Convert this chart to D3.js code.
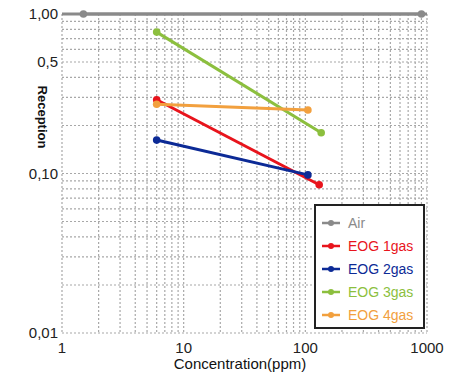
<!DOCTYPE html>
<html>
<head>
<meta charset="utf-8">
<script src="https://cdn.jsdelivr.net/npm/d3@7"></script>
<style>
  body { margin: 0; background: #fff; }
  text { font-family: "Liberation Sans", "DejaVu Sans", sans-serif; }
</style>
</head>
<body>
<svg id="chart"></svg>
<script>
// Chart size
const width = 474;
const height = 379;

// Data
const seriesNames = ["Air", "EOG 1gas", "EOG 2gas", "EOG 3gas", "EOG 4gas"];
const seriesColors = ["#8a8a8a", "#e8141c", "#0c2a96", "#8cbf3e", "#f2a03e"];
const airX = [1.5, 900];
const airY = [1.0, 1.0];
const gas1X = [6, 130];
const gas1Y = [0.29, 0.085];
const gas2X = [6, 105];
const gas2Y = [0.162, 0.098];
const gas3X = [6, 135];
const gas3Y = [0.77, 0.18];
const gas4X = [6, 105];
const gas4Y = [0.272, 0.25];

const xTicks = [1, 10, 100, 1000];
const xTickLabels = ["1", "10", "100", "1000"];
const yTicks = [1, 0.5, 0.1, 0.01];
const yTickLabels = ["1,00", "0,5", "0,10", "0,01"];

const series = [
	{xs: airX, ys: airY},
	{xs: gas1X, ys: gas1Y},
	{xs: gas2X, ys: gas2Y},
	{xs: gas3X, ys: gas3Y},
	{xs: gas4X, ys: gas4Y}
].map((s, i) => ({
	name: seriesNames[i],
	color: seriesColors[i],
	points: s.xs.map((x, j) => ({x: x, y: s.ys[j]}))
}));

// Scales
const x = d3.scaleLog().domain([1, 1000]).range([62, 427]);
const y = d3.scaleLog().domain([0.01, 1]).range([333, 14]);

const svg = d3.select("#chart")
	.attr("width", width)
	.attr("height", height);

// Dotted log grid
const xGrid = [];
for (let p = 1; p <= 100; p *= 10) for (let k = 1; k <= 9; k++) xGrid.push(k * p);
xGrid.push(1000);
const yGrid = [];
for (let p = 0.01; p < 1; p *= 10) for (let k = 1; k <= 9; k++) yGrid.push(+(k * p).toFixed(4));
yGrid.push(1);

svg.append("g")
	.selectAll("line")
	.data(xGrid)
	.enter()
	.append("line")
	.attr("x1", d => x(d)).attr("x2", d => x(d))
	.attr("y1", y(1)).attr("y2", y(0.01))
	.attr("stroke", "#a8a8a8")
	.attr("stroke-width", 1.2)
	.attr("stroke-dasharray", "2,2");

svg.append("g")
	.selectAll("line")
	.data(yGrid)
	.enter()
	.append("line")
	.attr("x1", x(1)).attr("x2", x(1000))
	.attr("y1", d => y(d)).attr("y2", d => y(d))
	.attr("stroke", "#a8a8a8")
	.attr("stroke-width", 1.2)
	.attr("stroke-dasharray", "2,2");

// Top border line (air level)
svg.append("line")
	.attr("x1", x(1)).attr("x2", x(1000))
	.attr("y1", y(1)).attr("y2", y(1))
	.attr("stroke", seriesColors[0])
	.attr("stroke-width", 3);

// Axis tick labels
svg.append("g")
	.selectAll("text")
	.data(yTicks)
	.enter()
	.append("text")
	.attr("x", 58)
	.attr("y", d => y(d) + 5)
	.attr("text-anchor", "end")
	.attr("font-size", 15)
	.attr("fill", "#222")
	.text((d, i) => yTickLabels[i]);

svg.append("g")
	.selectAll("text")
	.data(xTicks)
	.enter()
	.append("text")
	.attr("x", d => x(d))
	.attr("y", 353)
	.attr("text-anchor", "middle")
	.attr("font-size", 15)
	.attr("fill", "#222")
	.text((d, i) => xTickLabels[i]);

// Axis titles
svg.append("text")
	.attr("x", 240)
	.attr("y", 369)
	.attr("text-anchor", "middle")
	.attr("font-size", 15)
	.attr("fill", "#111")
	.text("Concentration(ppm)");

svg.append("text")
	.attr("transform", "translate(38,117) rotate(90)")
	.attr("text-anchor", "middle")
	.attr("font-size", 13)
	.attr("font-weight", "bold")
	.attr("fill", "#111")
	.text("Reception");

// Series lines and markers
const line = d3.line()
	.x(d => x(d.x))
	.y(d => y(d.y));

const groups = svg.selectAll(".series")
	.data(series)
	.enter()
	.append("g")
	.attr("class", "series");

groups.append("path")
	.attr("d", d => line(d.points))
	.attr("fill", "none")
	.attr("stroke", d => d.color)
	.attr("stroke-width", 3);

groups.selectAll("circle")
	.data(d => d.points.map(p => ({p: p, color: d.color})))
	.enter()
	.append("circle")
	.attr("cx", d => x(d.p.x))
	.attr("cy", d => y(d.p.y))
	.attr("r", 3.8)
	.attr("fill", d => d.color);

// Legend
const legend = svg.append("g")
	.attr("transform", "translate(315,205)");

legend.append("rect")
	.attr("width", 109)
	.attr("height", 123)
	.attr("fill", "#fff")
	.attr("stroke", "#222")
	.attr("stroke-width", 2);

const items = legend.selectAll(".item")
	.data(series)
	.enter()
	.append("g")
	.attr("class", "item")
	.attr("transform", (d, i) => `translate(0, ${18 + i * 23})`);

items.append("line")
	.attr("x1", 7).attr("x2", 25)
	.attr("stroke", d => d.color)
	.attr("stroke-width", 2.5);

items.append("circle")
	.attr("cx", 16)
	.attr("r", 3)
	.attr("fill", d => d.color);

items.append("text")
	.attr("x", 33)
	.attr("y", 5)
	.attr("font-size", 14)
	.attr("fill", d => d.color)
	.text(d => d.name);
</script>
</body>
</html>
